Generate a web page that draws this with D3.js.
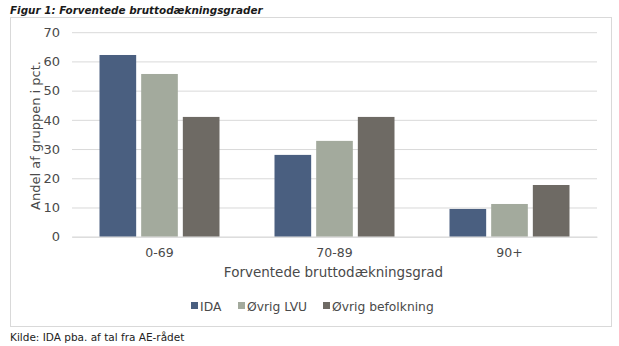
<!DOCTYPE html>
<html><head><meta charset="utf-8">
<script src="https://cdn.jsdelivr.net/npm/d3@7"></script>
<style>body{margin:0;background:#fff}svg{display:block}text{font-family:"DejaVu Sans",sans-serif;}</style>
</head><body><svg id="c" width="619" height="346"></svg>
<script>
const categories = ["0-69", "70-89", "90+"];
const seriesNames = ["IDA", "Øvrig LVU", "Øvrig befolkning"];
const idaValues = [62.2, 28, 9.5];
const lvuValues = [55.7, 32.8, 11.2];
const befValues = [41, 41, 17.7];
const yTicks = [0, 10, 20, 30, 40, 50, 60, 70];
const colors = ["#4a5f80", "#a3aa9d", "#6e6a64"];

const series = [idaValues, lvuValues, befValues];
const svg = d3.select("#c");
const L = 72, R = 597, T = 32.2, B = 236.7;

svg.append("rect").attr("x", 10.5).attr("y", 17.5).attr("width", 601).attr("height", 309)
  .attr("fill", "none").attr("stroke", "#d9d9d9");

svg.append("text").attr("x", 10).attr("y", 14).attr("font-size", 10.4).attr("font-weight", "bold")
  .attr("font-style", "italic").attr("fill", "#1a1a1a").text("Figur 1: Forventede bruttodækningsgrader");

const x = d3.scaleBand().domain(categories).range([L, R]).paddingInner(0).paddingOuter(0);
const y = d3.scaleLinear().domain([0, 70]).range([B, T]);
const xs = d3.scaleBand().domain(d3.range(3)).range([27.5, 175 - 27.5]).paddingInner(0.12);

const yAxis = svg.append("g").attr("transform", `translate(${L},0)`)
  .call(d3.axisLeft(y).tickValues(yTicks).tickSize(-(R - L)).tickPadding(12));
yAxis.select(".domain").remove();
yAxis.selectAll(".tick line").attr("stroke", "#d9d9d9");
yAxis.selectAll(".tick text").attr("font-size", 13).attr("fill", "#4a4a4a")
  .attr("font-family", "DejaVu Sans");

categories.forEach((c, i) => {
  series.forEach((s, j) => {
    svg.append("rect").attr("x", x(c) + xs(j)).attr("y", y(s[i]))
      .attr("width", xs.bandwidth()).attr("height", y(0) - y(s[i])).attr("fill", colors[j]);
  });
});

const xAxis = svg.append("g").attr("transform", `translate(0,${B})`)
  .call(d3.axisBottom(x).tickSize(0).tickPadding(11));
xAxis.select(".domain").attr("stroke", "#d9d9d9");
xAxis.selectAll(".tick text").attr("font-size", 12.5).attr("fill", "#4a4a4a")
  .attr("font-family", "DejaVu Sans");

svg.append("text").attr("x", (L + R) / 2 - 1).attr("y", 277).attr("text-anchor", "middle")
  .attr("font-size", 13.5).attr("fill", "#4a4a4a").text("Forventede bruttodækningsgrad");

svg.append("text").attr("transform", `translate(40,${(T + B) / 2 + 1}) rotate(-90)`)
  .attr("text-anchor", "middle").attr("font-size", 13).attr("fill", "#4a4a4a")
  .text("Andel af gruppen i pct.");

const legX = [191, 238, 323];
seriesNames.forEach((n, j) => {
  svg.append("rect").attr("x", legX[j]).attr("y", 302).attr("width", 7).attr("height", 7).attr("fill", colors[j]);
  svg.append("text").attr("x", legX[j] + 9).attr("y", 310.5).attr("font-size", 12.3)
    .attr("fill", "#4a4a4a").text(n);
});

svg.append("text").attr("x", 10).attr("y", 341).attr("font-size", 10.5).attr("fill", "#222")
  .text("Kilde: IDA pba. af tal fra AE-rådet");
</script></body></html>
